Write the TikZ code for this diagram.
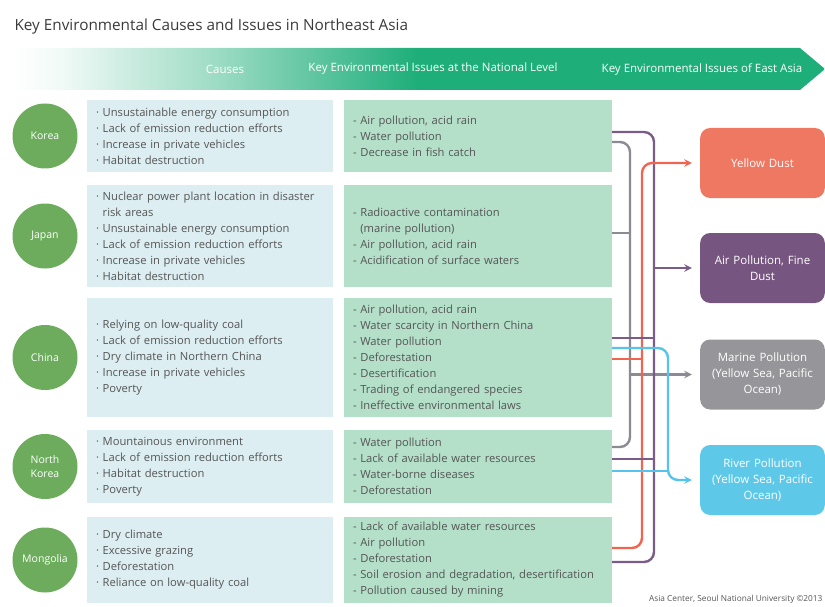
\documentclass[tikz,border=0pt]{standalone}
\usepackage{fontspec}
\setmainfont{Open Sans}
\usepackage{tikz}
\usetikzlibrary{positioning}
\usepackage{xcolor}

% Colores
\definecolor{titlegray}{RGB}{58,58,58}
\definecolor{textgray}{RGB}{85,85,85}
\definecolor{bannergreen}{RGB}{30,174,122}
\colorlet{bannerpale}{bannergreen!6}
\colorlet{bannermid}{bannergreen!45}
\definecolor{countrygreen}{RGB}{108,172,92}
\definecolor{causefill}{RGB}{221,238,242}
\definecolor{issuefill}{RGB}{180,224,202}
\definecolor{dustred}{RGB}{238,120,98}
\definecolor{airpurple}{RGB}{118,86,128}
\definecolor{marinegray}{RGB}{150,150,154}
\definecolor{riverblue}{RGB}{94,200,232}
\definecolor{linepurple}{RGB}{122,92,136}
\definecolor{linegray}{RGB}{140,138,146}
\definecolor{linered}{RGB}{240,100,80}
\definecolor{lineblue}{RGB}{85,195,235}

\pgfdeclarehorizontalshading{bannerfade}{100bp}{color(0bp)=(white); color(25bp)=(white); color(28bp)=(bannerpale); color(38bp)=(bannermid); color(50bp)=(bannergreen); color(100bp)=(bannergreen)}

\begin{document}
\begin{tikzpicture}[x=1pt, y=-1pt, >=stealth,
    country/.style={circle, fill=countrygreen, minimum size=65pt, inner sep=0pt, text=white, align=center, font=\fontsize{10.5}{14}\selectfont},
    causebox/.style={rectangle, fill=causefill, text width=228pt, inner xsep=9pt, align=left, text=textgray, font=\fontsize{11.2}{16}\selectfont},
    issuebox/.style={rectangle, fill=issuefill, text width=250pt, inner xsep=9pt, align=left, text=textgray, font=\fontsize{11.2}{16}\selectfont},
    eastbox/.style={rectangle, rounded corners=10pt, minimum width=121pt, minimum height=70pt, text width=118pt, align=center, text=white, font=\fontsize{11.5}{16}\selectfont},
    bannerlabel/.style={text=white, font=\fontsize{11.5}{13}\selectfont},
    link/.style={line width=2.4pt, rounded corners=10pt},
    grayline/.style={link, draw=linegray},
    purpline/.style={link, draw=linepurple},
    redline/.style={link, draw=linered},
    blueline/.style={link, draw=lineblue}]
    \useasboundingbox (0,0) rectangle (825,607);

    % Titulo y flecha de cabecera
    \node [anchor=west, text=titlegray, font=\fontsize{15.3}{18}\selectfont] (title) at (11,27) {Key Environmental Causes and Issues in Northeast Asia};
    \shade [shading=bannerfade] (10,48) -- (800,48) -- (825,69) -- (800,90) -- (10,90) -- cycle;
    \node [bannerlabel] (head1) at (225,69) {Causes};
    \node [bannerlabel] (head2) at (433,69) {Key Environmental Issues at the National Level};
    \node [bannerlabel] (head3) at (702,69) {Key Environmental Issues of East Asia};

    % Paises
    \node [country] (country1) at (45,136) {Korea};
    \node [country] (country2) at (45,236) {Japan};
    \node [country] (country3) at (45,357.5) {China};
    \node [country] (country4) at (45,466.5) {North\\Korea};
    \node [country] (country5) at (45,560) {Mongolia};

    % Causas
    \node [causebox, minimum height=72pt, right of=country1, node distance=165pt] (causes1) {%
        · Unsustainable energy consumption\\
        · Lack of emission reduction efforts\\
        · Increase in private vehicles\\
        · Habitat destruction};
    \node [causebox, minimum height=102pt, right of=country2, node distance=165pt] (causes2) {%
        · Nuclear power plant location in disaster\\
        \phantom{· }risk areas\\
        · Unsustainable energy consumption\\
        · Lack of emission reduction efforts\\
        · Increase in private vehicles\\
        · Habitat destruction};
    \node [causebox, minimum height=119pt, right of=country3, node distance=165pt] (causes3) {%
        · Relying on low-quality coal\\
        · Lack of emission reduction efforts\\
        · Dry climate in Northern China\\
        · Increase in private vehicles\\
        · Poverty};
    \node [causebox, minimum height=73pt, right of=country4, node distance=165pt] (causes4) {%
        · Mountainous environment\\
        · Lack of emission reduction efforts\\
        · Habitat destruction\\
        · Poverty};
    \node [causebox, minimum height=86pt, right of=country5, node distance=165pt] (causes5) {%
        · Dry climate\\
        · Excessive grazing\\
        · Deforestation\\
        · Reliance on low-quality coal};

    % Problemas a nivel nacional
    \node [issuebox, minimum height=72pt, right of=causes1, node distance=268pt] (issues1) {%
        - Air pollution, acid rain\\
        - Water pollution\\
        - Decrease in fish catch};
    \node [issuebox, minimum height=102pt, right of=causes2, node distance=268pt] (issues2) {%
        - Radioactive contamination\\
        \phantom{- }(marine pollution)\\
        - Air pollution, acid rain\\
        - Acidification of surface waters};
    \node [issuebox, minimum height=119pt, right of=causes3, node distance=268pt] (issues3) {%
        - Air pollution, acid rain\\
        - Water scarcity in Northern China\\
        - Water pollution\\
        - Deforestation\\
        - Desertification\\
        - Trading of endangered species\\
        - Ineffective environmental laws};
    \node [issuebox, minimum height=73pt, right of=causes4, node distance=268pt] (issues4) {%
        - Water pollution\\
        - Lack of available water resources\\
        - Water-borne diseases\\
        - Deforestation};
    \node [issuebox, minimum height=86pt, right of=causes5, node distance=268pt] (issues5) {%
        - Lack of available water resources\\
        - Air pollution\\
        - Deforestation\\
        - Soil erosion and degradation, desertification\\
        - Pollution caused by mining};

    % Problemas de Asia oriental
    \node [eastbox, fill=dustred] (east1) at (762.5,163) {Yellow Dust};
    \node [eastbox, fill=airpurple] (east2) at (762.5,268) {Air Pollution, Fine\\Dust};
    \node [eastbox, fill=marinegray] (east3) at (762.5,374.5) {Marine Pollution\\(Yellow Sea, Pacific\\Ocean)};
    \node [eastbox, fill=riverblue] (east4) at (762.5,480) {River Pollution\\(Yellow Sea, Pacific\\Ocean)};

    \node [anchor=south east, text=textgray, font=\fontsize{8.3}{10}\selectfont] (credit) at (826,607) {Asia Center, Seoul National University ©2013};

    % Lineas verticales
    \coordinate (busG) at (630,0);
    \coordinate (busR) at (642,0);
    \coordinate (busP) at (654,0);
    \coordinate (busB) at (668,0);

    % Conexiones
    \draw [grayline] ([yshift=-6pt]issues1.east) -| (busG |- issues3.east) |- ([yshift=19.5pt]issues4.east);
    \draw [grayline] ([yshift=3pt]issues2.east) coordinate (g2) -- (g2 -| busG);
    \draw [grayline, ->, shorten >=8pt] (busG |- east3.west) -- (east3);

    \draw [purpline] ([yshift=4pt]issues1.east) -| (busP |- issues3.east) |- ([yshift=-2pt]issues5.east);
    \draw [purpline, ->, shorten >=8pt] (busP |- east2.west) -- (east2);

    \draw [redline, ->, shorten >=8pt] ([yshift=12pt]issues5.east) -| (busR |- issues3.east) |- (east1);
    \draw [redline] ([yshift=-1.5pt]issues3.east) coordinate (r3) -- (r3 -| busR);

    \draw [purpline] ([yshift=19.5pt]issues3.east) coordinate (p3) -- (p3 -| busP);
    \draw [purpline] ([yshift=7.5pt]issues4.east) coordinate (p4) -- (p4 -| busP);

    \draw [blueline, ->, shorten >=8pt] ([yshift=9.5pt]issues3.east) -| (busB |- east4.west) -- (east4);
    \draw [blueline] ([yshift=-4.5pt]issues4.east) coordinate (b4) -- (b4 -| busB);

\end{tikzpicture}
\end{document}
